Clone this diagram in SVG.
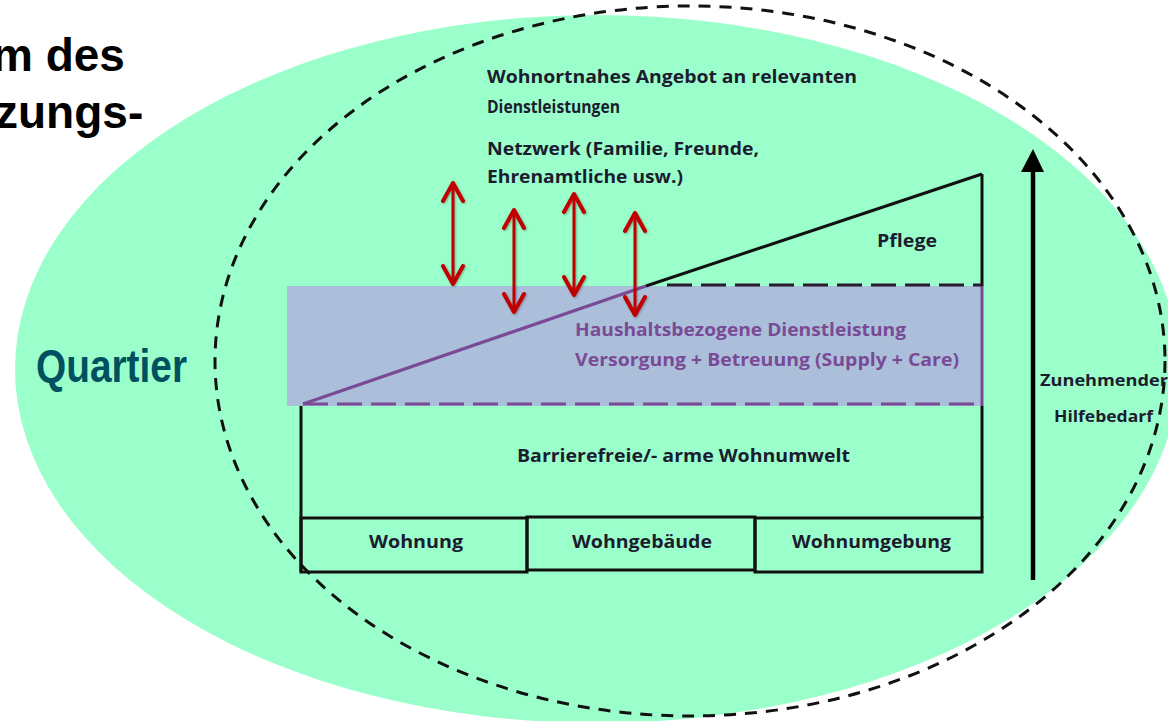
<svg xmlns="http://www.w3.org/2000/svg" width="1168" height="721" viewBox="0 0 1168 721">
<defs>
<filter id="sh" x="-30%" y="-10%" width="160%" height="120%"><feDropShadow dx="1" dy="1" stdDeviation="1" flood-color="#000" flood-opacity="0.3"/></filter>
</defs>
<style>
.t{font-family:"Open Sans","Noto Sans",sans-serif;font-weight:700;font-size:18px;fill:#1c1c30}
.p{fill:#7a4a96}
.h{font-family:"Liberation Sans",Arial,sans-serif;font-weight:700;fill:#000}
.k{fill:none;stroke:#111;stroke-width:3}
.s{fill:none;stroke:#c00000;stroke-width:3;stroke-linecap:round}
.r{fill:none;stroke:#c00000;stroke-width:4;stroke-linecap:round;stroke-linejoin:round}
.d{fill:none;stroke:#7a4a96;stroke-width:3;stroke-dasharray:25 9}
</style>
<rect width="1168" height="721" fill="#fff"/>
<g id="quartier-area"><ellipse cx="597" cy="369" rx="582" ry="354" fill="#9bffcb"/></g>
<g id="title"><text class="h" x="-8" y="71" font-size="46">m des</text><text class="h" x="-5" y="128" font-size="46">zungs-</text></g>
<g id="care-band"><rect x="287" y="286" width="696" height="120" fill="#abbfda"/></g>
<g id="connectors">
<ellipse cx="690" cy="361" rx="475" ry="355" fill="none" stroke="#111" stroke-width="3" stroke-dasharray="12 9"/>
<path class="k" d="M301 406V572M982 174V286M982 406V518"/>
<path d="M982 286V406" fill="none" stroke="#7a4a96" stroke-width="3"/>
<path class="k" d="M646 286L982 174"/>
<path d="M303 404L646 286" fill="none" stroke="#7a4a96" stroke-width="3.2"/>
<path d="M667 285H982" fill="none" stroke="#2a1a30" stroke-width="3" stroke-dasharray="25 9"/>
<path class="d" d="M303 404H982"/>
<path d="M1033 580V168" fill="none" stroke="#000" stroke-width="4.5"/>
<path d="M1021 172L1033 149L1044 172Z" fill="#000"/>
<g filter="url(#sh)">
<path class="s" d="M453 185V282"/><path class="r" d="M443 201L453 183L463 201M443 266L453 284L463 266"/>
<path class="s" d="M514 212V310"/><path class="r" d="M504 228L514 210L524 228M504 294L514 312L524 294"/>
<path class="s" d="M574 196V293"/><path class="r" d="M564 212L574 194L584 212M564 277L574 295L584 277"/>
<path class="s" d="M635 214V313"/><path class="r" d="M625 231L635 213L645 231M625 297L635 315L645 297"/>
</g>
</g>
<g id="wohnung"><rect class="k" x="301" y="518" width="226" height="54"/><text class="t" x="369" y="548" textLength="94" lengthAdjust="spacingAndGlyphs">Wohnung</text></g>
<g id="wohngebaeude"><rect class="k" x="527" y="517" width="228" height="53"/><text class="t" x="572" y="548" textLength="140" lengthAdjust="spacingAndGlyphs">Wohngebäude</text></g>
<g id="wohnumgebung"><rect class="k" x="755" y="518" width="227" height="54"/><text class="t" x="792" y="548" textLength="159" lengthAdjust="spacingAndGlyphs">Wohnumgebung</text></g>
<g id="labels">
<text x="36" y="382" font-family="'Liberation Sans',Arial,sans-serif" font-weight="700" font-size="46" fill="#00505f" textLength="151" lengthAdjust="spacingAndGlyphs">Quartier</text>
<text class="t" x="487" y="83" textLength="370" lengthAdjust="spacingAndGlyphs">Wohnortnahes Angebot an relevanten</text>
<text class="t" x="487" y="113" textLength="133" lengthAdjust="spacingAndGlyphs">Dienstleistungen</text>
<text class="t" x="487" y="155" textLength="272" lengthAdjust="spacingAndGlyphs">Netzwerk (Familie, Freunde,</text>
<text class="t" x="487" y="183" textLength="196" lengthAdjust="spacingAndGlyphs">Ehrenamtliche usw.)</text>
<text class="t" x="877" y="247" textLength="60" lengthAdjust="spacingAndGlyphs">Pflege</text>
<text class="t p" x="575" y="336" textLength="331" lengthAdjust="spacingAndGlyphs">Haushaltsbezogene Dienstleistung</text>
<text class="t p" x="575" y="366" textLength="384" lengthAdjust="spacingAndGlyphs">Versorgung + Betreuung (Supply + Care)</text>
<text class="t" x="517" y="462" textLength="333" lengthAdjust="spacingAndGlyphs">Barrierefreie/- arme Wohnumwelt</text>
<text class="t" x="1040" y="386" style="font-size:16.5px" textLength="128" lengthAdjust="spacingAndGlyphs">Zunehmender</text>
<text class="t" x="1054" y="422" style="font-size:16.5px" textLength="99" lengthAdjust="spacingAndGlyphs">Hilfebedarf</text>
</g>
</svg>
